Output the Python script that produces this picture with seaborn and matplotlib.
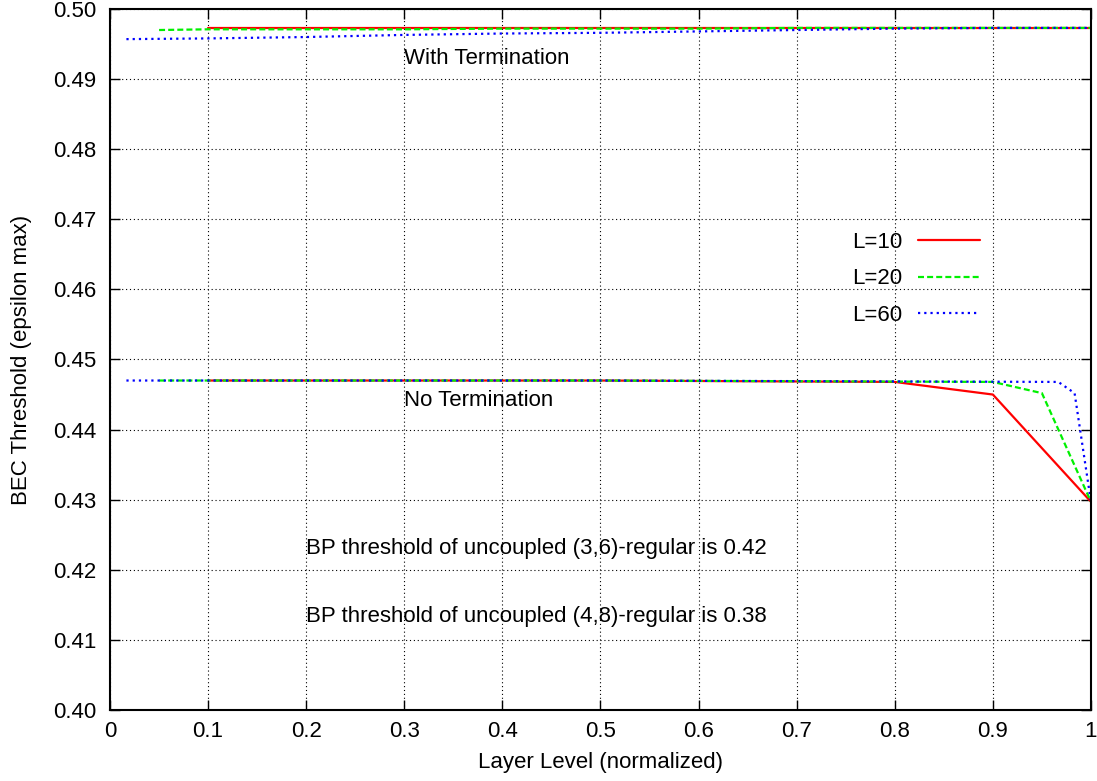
import matplotlib
matplotlib.use("Agg")
import matplotlib.pyplot as plt
import seaborn as sns
import pandas as pd

# ---- data ----
# with termination (upper curves)
x_term_10 = [0.1, 0.2, 0.3, 0.4, 0.5, 0.6, 0.7, 0.8, 0.9, 1.0]
y_term_10 = [0.4973, 0.4973, 0.4973, 0.4973, 0.4973, 0.4973, 0.4973, 0.4973, 0.4973, 0.4973]
x_term_20 = [0.05, 0.1, 0.2, 0.3, 0.4, 0.5, 0.6, 0.7, 0.8, 0.9, 1.0]
y_term_20 = [0.4970, 0.4971, 0.4971, 0.4971, 0.4972, 0.4972, 0.4972, 0.4973, 0.4973, 0.4973, 0.4973]
x_term_60 = [0.0167, 0.1, 0.2, 0.3, 0.4, 0.5, 0.6, 0.7, 0.8, 0.9, 1.0]
y_term_60 = [0.4957, 0.4958, 0.4960, 0.4963, 0.4965, 0.4966, 0.4968, 0.4970, 0.4972, 0.4973, 0.4973]

# no termination (lower curves)
x_noterm_10 = [0.1, 0.5, 0.8, 0.9, 1.0]
y_noterm_10 = [0.4470, 0.4470, 0.4468, 0.4450, 0.4297]
x_noterm_20 = [0.05, 0.5, 0.9, 0.95, 1.0]
y_noterm_20 = [0.4470, 0.4470, 0.4468, 0.4452, 0.4297]
x_noterm_60 = [0.0167, 0.5, 0.9667, 0.9833, 1.0]
y_noterm_60 = [0.4470, 0.4470, 0.4468, 0.4452, 0.4297]

labels = ["L=10", "L=20", "L=60"]
colors = ["#ff0000", "#00f000", "#0000ff"]
dashes = [None, (2.7, 1.4), (1.0, 1.8)]

FS = 16

sns.set_style("ticks")
plt.rcParams["font.family"] = ["Liberation Sans", "DejaVu Sans"]
plt.rcParams["font.size"] = FS
for key in ["text.color", "axes.labelcolor", "xtick.color", "ytick.color", "axes.edgecolor"]:
    plt.rcParams[key] = "black"

fig = plt.figure(figsize=(10.97, 7.81), dpi=100)
ax = fig.add_axes([0.1003, 0.0909, 0.8942, 0.8976])

term = [(x_term_10, y_term_10), (x_term_20, y_term_20), (x_term_60, y_term_60)]
noterm = [(x_noterm_10, y_noterm_10), (x_noterm_20, y_noterm_20), (x_noterm_60, y_noterm_60)]

for (xs, ys), lab, col, dsh in zip(term, labels, colors, dashes):
    df = pd.DataFrame({"x": xs, "y": ys})
    sns.lineplot(data=df, x="x", y="y", ax=ax, color=col, linewidth=1.6, label=lab)
    if dsh is not None:
        ax.lines[-1].set_dashes(dsh)

for (xs, ys), col, dsh in zip(noterm, colors, dashes):
    df = pd.DataFrame({"x": xs, "y": ys})
    sns.lineplot(data=df, x="x", y="y", ax=ax, color=col, linewidth=1.6, legend=False)
    if dsh is not None:
        ax.lines[-1].set_dashes(dsh)

ax.set_xlim(0, 1)
ax.set_ylim(0.40, 0.50)
ax.set_xticks([0, 0.1, 0.2, 0.3, 0.4, 0.5, 0.6, 0.7, 0.8, 0.9, 1.0])
ax.set_xticklabels(["0", "0.1", "0.2", "0.3", "0.4", "0.5", "0.6", "0.7", "0.8", "0.9", "1"])
ax.set_yticks([0.40 + 0.01 * i for i in range(11)])
ax.set_yticklabels([f"{0.40 + 0.01 * i:.2f}" for i in range(11)])
ax.tick_params(axis="y", direction="in", length=7, width=1, left=True, right=True, labelsize=FS, pad=10)
ax.tick_params(axis="x", direction="in", length=7, width=1, bottom=True, top=True, labelsize=FS, pad=8)
ax.grid(True, color="black", linestyle=(0, (1, 2.5)), linewidth=0.8)
for s in ax.spines.values():
    s.set_linewidth(1.5)

ax.set_xlabel("Layer Level (normalized)", fontsize=FS, labelpad=7)
ax.set_ylabel("BEC Threshold (epsilon max)", fontsize=FS, labelpad=15)

ax.text(0.3, 0.4929, "With Termination", fontsize=FS, va="center")
ax.text(0.3, 0.4441, "No Termination", fontsize=FS, va="center")
ax.text(0.2, 0.4231, "BP threshold of uncoupled (3,6)-regular is 0.42", fontsize=FS, va="center")
ax.text(0.2, 0.4133, "BP threshold of uncoupled (4,8)-regular is 0.38", fontsize=FS, va="center")

ax.legend(loc="upper right", bbox_to_anchor=(0.907, 0.7105), frameon=False, markerfirst=False,
          handlelength=2.8, handletextpad=0.7, labelspacing=0.7, fontsize=FS)

fig.savefig("out.png", dpi=100)
